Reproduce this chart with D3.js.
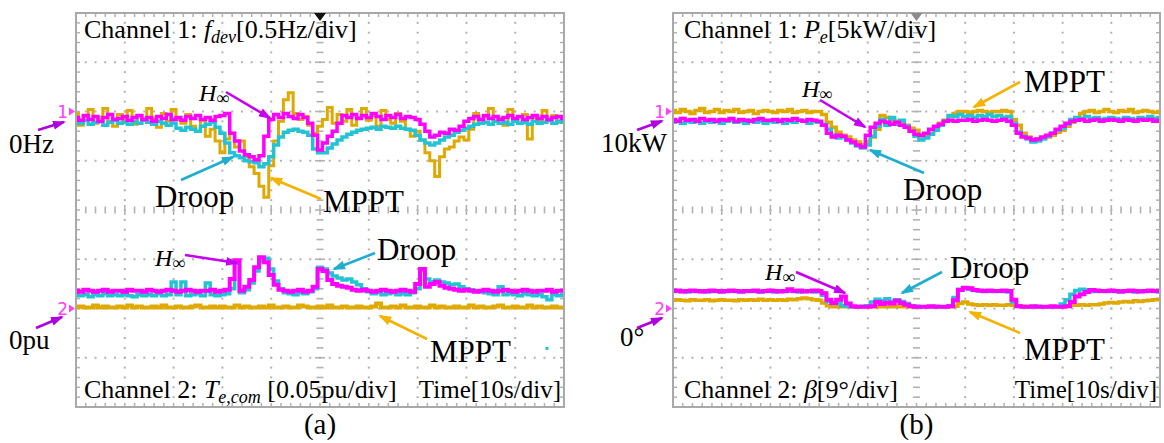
<!DOCTYPE html>
<html><head><meta charset="utf-8">
<script src="https://cdn.jsdelivr.net/npm/d3@7"></script>
<style>
body{margin:0;background:#fff}
svg{display:block}
text{font-family:"Liberation Serif","Times New Roman",serif;fill:#000}
</style>
</head><body>
<svg id="c" width="1164" height="443"></svg>
<script>
// ---------- DATA (one sample per second, 0..100 s; 10 s/div) ----------
// Panel (a), channel 1: frequency deviation f_dev [Hz]
const fdevHinf = [-0.06,-0.09,-0.04,-0.08,-0.05,-0.10,-0.06,-0.03,-0.08,-0.07,
 -0.05,-0.09,-0.06,-0.04,-0.08,-0.06,-0.10,-0.05,-0.07,-0.03,
 -0.08,-0.06,-0.09,-0.05,-0.07,-0.04,-0.08,-0.06,-0.09,-0.05,
 -0.04,-0.02,-0.22,-0.30,-0.40,-0.44,-0.46,-0.49,-0.45,-0.25,
 -0.08,-0.03,-0.06,-0.02,-0.05,-0.07,-0.03,-0.06,-0.12,-0.24,
 -0.39,-0.32,-0.25,-0.20,-0.12,-0.04,-0.06,-0.03,-0.07,-0.04,
 -0.06,-0.02,-0.05,-0.08,-0.04,-0.06,-0.03,-0.07,-0.05,-0.06,
 -0.08,-0.13,-0.20,-0.26,-0.24,-0.21,-0.22,-0.18,-0.19,-0.15,
 -0.10,-0.07,-0.05,-0.08,-0.04,-0.07,-0.05,-0.08,-0.06,-0.04,
 -0.07,-0.05,-0.08,-0.06,-0.04,-0.07,-0.05,-0.08,-0.06,-0.05,-0.07];
const fdevDroop = [-0.10,-0.12,-0.09,-0.13,-0.11,-0.10,-0.14,-0.11,-0.09,-0.12,
 -0.11,-0.13,-0.10,-0.12,-0.09,-0.11,-0.13,-0.10,-0.12,-0.14,
 -0.12,-0.17,-0.19,-0.16,-0.18,-0.20,-0.15,-0.13,-0.11,-0.16,
 -0.22,-0.32,-0.42,-0.45,-0.47,-0.50,-0.51,-0.52,-0.56,-0.53,
 -0.46,-0.34,-0.26,-0.21,-0.19,-0.18,-0.20,-0.21,-0.24,-0.38,
 -0.42,-0.42,-0.37,-0.33,-0.29,-0.26,-0.23,-0.21,-0.19,-0.18,
 -0.17,-0.16,-0.18,-0.15,-0.16,-0.17,-0.15,-0.17,-0.18,-0.19,
 -0.24,-0.29,-0.32,-0.34,-0.32,-0.29,-0.26,-0.24,-0.21,-0.19,
 -0.17,-0.15,-0.13,-0.12,-0.11,-0.13,-0.10,-0.12,-0.11,-0.13,
 -0.10,-0.12,-0.11,-0.13,-0.10,-0.12,-0.11,-0.09,-0.12,-0.10,-0.11];
const fdevMPPT = [-0.02,-0.14,-0.05,0.02,-0.12,-0.06,0.03,-0.10,-0.15,-0.03,
 -0.08,0.01,-0.13,-0.04,-0.09,0.03,-0.07,-0.16,-0.02,-0.10,
 0.02,-0.08,-0.12,-0.03,-0.15,-0.20,-0.09,-0.25,-0.18,-0.30,
 -0.42,-0.28,-0.22,-0.36,-0.30,-0.46,-0.56,-0.63,-0.76,-0.87,
 -0.55,-0.30,-0.10,0.12,0.19,-0.02,-0.08,-0.05,-0.14,-0.22,
 -0.15,-0.08,0.04,-0.12,-0.03,-0.10,0.02,-0.14,-0.06,0.03,
 -0.09,-0.04,-0.15,0.01,-0.08,-0.12,-0.02,-0.10,-0.18,-0.25,
 -0.20,-0.29,-0.42,-0.50,-0.66,-0.46,-0.38,-0.36,-0.30,-0.26,
 -0.29,-0.18,-0.02,-0.12,-0.05,0.03,-0.10,-0.07,-0.14,0.02,
 -0.08,-0.12,-0.03,-0.28,-0.06,-0.10,0.01,-0.09,-0.04,-0.11,-0.07];

// Panel (a), channel 2: T_e,com [pu]
const tecHinf = [0.018,0.017,0.019,0.018,0.017,0.018,0.019,0.017,0.018,0.018,
 0.017,0.019,0.018,0.018,0.017,0.019,0.018,0.017,0.018,0.019,
 0.018,0.017,0.018,0.019,0.018,0.017,0.018,0.018,0.019,0.017,
 0.018,0.019,0.030,0.049,0.018,0.022,0.029,0.042,0.052,0.047,
 0.034,0.024,0.019,0.018,0.017,0.018,0.019,0.017,0.018,0.022,
 0.040,0.038,0.029,0.025,0.023,0.022,0.021,0.019,0.018,0.019,
 0.018,0.017,0.018,0.019,0.018,0.017,0.018,0.019,0.018,0.017,
 0.025,0.040,0.022,0.025,0.027,0.023,0.021,0.020,0.019,0.018,
 0.019,0.018,0.017,0.018,0.019,0.018,0.017,0.018,0.019,0.018,
 0.017,0.018,0.019,0.018,0.017,0.018,0.018,0.019,0.017,0.018,0.018];
const tecDroop = [0.014,0.013,0.014,0.012,0.014,0.013,0.015,0.013,0.014,0.013,
 0.014,0.013,0.012,0.014,0.013,0.014,0.013,0.015,0.013,0.014,
 0.027,0.014,0.027,0.013,0.014,0.015,0.013,0.026,0.014,0.013,
 0.014,0.015,0.020,0.046,0.016,0.019,0.026,0.038,0.048,0.051,
 0.040,0.028,0.020,0.016,0.015,0.014,0.016,0.015,0.017,0.020,
 0.042,0.040,0.036,0.033,0.031,0.029,0.030,0.027,0.024,0.020,
 0.017,0.015,0.016,0.014,0.015,0.016,0.014,0.015,0.014,0.016,
 0.020,0.039,0.030,0.027,0.029,0.027,0.026,0.024,0.025,0.022,
 0.020,0.019,0.018,0.017,0.016,0.015,0.014,0.022,0.014,0.015,
 0.014,0.013,0.015,0.014,0.013,0.014,0.012,0.009,0.014,0.013,0.014];
const tecMPPT = [0.001,0.002,0.001,0.001,0.003,0.001,0.002,0.001,0.001,0.002,
 0.001,0.003,0.001,0.002,0.001,0.001,0.002,0.001,0.003,0.001,
 0.001,0.002,0.001,0.001,0.002,0.003,0.001,0.001,0.002,0.001,
 0.002,0.001,0.001,0.003,0.001,0.002,0.001,0.001,0.002,0.001,
 0.003,0.001,0.001,0.002,0.001,0.001,0.003,0.002,0.001,0.001,
 0.002,0.001,0.003,0.001,0.001,0.002,0.001,0.001,0.002,0.001,
 0.001,0.002,0.005,0.001,0.001,0.002,0.001,0.003,0.001,0.001,
 0.002,0.001,0.001,0.003,0.001,0.002,0.001,0.001,0.002,0.001,
 0.001,0.003,0.001,0.002,0.001,0.001,0.002,0.003,0.001,0.001,
 0.002,0.001,0.001,0.003,0.001,0.002,0.001,0.001,0.002,0.001,0.001];
const tecDroopStray = [{t:96.4, v:-0.040}];

// Panel (b), channel 1: P_e [kW]
const peHinf = [9.2,9.0,9.3,9.1,9.2,9.0,9.3,9.1,9.2,9.0,
 9.2,9.1,9.3,9.0,9.2,9.1,9.0,9.2,9.3,9.1,
 9.1,9.2,9.0,9.2,9.1,9.3,9.1,9.0,9.2,9.1,
 9.0,8.6,7.8,7.4,7.6,7.5,7.1,6.9,6.6,6.4,
 7.6,8.4,8.8,9.0,8.9,8.7,8.9,8.6,8.4,8.0,
 7.7,7.6,7.8,8.2,8.5,8.7,9.0,9.1,9.0,9.1,
 9.1,9.2,9.0,9.1,9.2,9.1,9.0,9.1,9.2,9.0,
 8.6,7.8,7.4,7.3,7.1,7.2,7.4,7.6,7.8,8.2,
 8.5,8.8,9.0,9.1,9.2,9.0,9.1,9.2,9.0,9.1,
 9.2,9.1,9.0,9.2,9.1,9.0,9.2,9.1,9.2,9.0,9.1];
const peDroop = [8.9,9.1,8.8,9.0,8.9,9.2,8.8,9.0,8.9,9.1,
 8.8,9.0,9.1,8.9,9.0,8.8,9.1,8.9,9.0,8.8,
 9.0,8.9,9.1,8.8,9.0,8.9,9.1,9.0,8.8,9.0,
 8.9,8.7,8.2,7.6,7.3,7.4,7.1,6.8,6.5,6.3,
 6.6,7.5,8.5,9.2,8.6,9.4,8.7,9.1,8.5,8.0,
 7.5,7.1,7.3,7.7,8.1,8.6,9.0,9.6,9.5,9.7,
 9.5,9.6,9.4,9.6,9.5,9.7,9.5,9.6,9.4,9.5,
 8.8,7.9,7.5,7.2,6.9,7.0,7.2,7.5,7.8,8.1,
 8.3,8.7,9.2,9.4,9.3,9.5,9.3,9.4,9.2,9.3,
 9.4,9.3,9.2,9.4,9.3,9.2,9.4,9.3,9.5,9.3,9.4];
const peMPPT = [10.1,9.9,10.2,10.0,9.8,10.1,10.3,9.9,10.0,10.2,
 9.9,10.1,10.0,10.2,9.9,10.0,10.1,9.8,10.0,10.1,
 10.0,9.9,10.1,10.0,10.2,9.9,10.0,10.1,9.9,10.0,
 10.0,9.7,8.9,8.4,7.9,7.6,7.4,7.1,6.9,6.6,
 6.9,7.4,8.2,9.6,9.4,9.1,9.0,8.8,8.6,8.3,
 8.1,7.4,7.6,7.8,8.4,8.8,9.1,9.5,9.8,10.0,
 10.0,9.9,10.0,10.1,10.0,9.9,10.0,10.0,10.1,10.0,
 9.2,8.6,7.8,7.4,7.1,7.2,7.3,7.4,7.6,7.9,
 8.1,8.5,8.9,9.3,9.8,10.0,10.1,9.9,10.0,10.2,
 10.0,9.9,10.1,10.0,10.2,9.9,10.0,10.1,10.0,9.9,10.0];

// Panel (b), channel 2: pitch angle beta [deg]
const betaHinf = [3.2,3.3,3.1,3.2,3.3,3.2,3.1,3.2,3.3,3.2,
 3.1,3.2,3.3,3.2,3.1,3.2,3.2,3.3,3.1,3.2,
 3.3,3.2,3.1,3.2,3.5,3.2,3.3,3.1,3.2,3.3,
 3.2,2.8,1.6,1.0,1.6,2.2,0.9,0.4,0.3,0.3,
 0.3,0.4,1.2,0.8,1.1,0.9,1.4,1.0,0.7,0.4,
 0.3,0.3,0.3,0.4,0.3,0.3,0.3,0.4,1.5,3.4,
 3.8,3.7,3.4,3.3,3.2,3.3,3.2,3.2,3.3,3.2,
 1.6,0.4,0.3,0.3,0.4,0.3,0.3,0.3,0.4,0.3,
 0.3,0.4,1.2,2.2,2.6,3.0,3.4,3.3,3.2,3.2,
 3.3,3.2,3.1,3.2,3.3,3.2,3.1,3.2,3.3,3.2,3.2];
const betaDroop = [3.1,3.2,3.1,3.0,3.2,3.1,3.2,3.0,3.1,3.2,
 3.0,3.1,3.2,3.1,3.0,3.2,3.1,3.1,3.0,3.2,
 3.1,3.0,3.2,3.1,3.3,3.1,3.0,3.2,3.1,3.0,
 3.1,2.4,1.3,0.9,1.0,0.5,0.4,0.3,0.3,0.4,
 0.5,1.2,1.7,1.4,1.8,1.2,1.6,1.3,0.9,0.5,
 0.4,0.3,0.3,0.3,0.4,0.3,0.3,0.5,2.0,3.5,
 3.7,3.5,3.3,3.2,3.1,3.2,3.1,3.2,3.1,3.0,
 1.2,0.4,0.3,0.3,0.3,0.4,0.3,0.3,0.3,0.3,
 0.8,1.6,2.6,3.3,3.5,3.4,3.2,3.1,3.2,3.1,
 3.2,3.1,3.0,3.2,3.1,3.0,3.2,3.1,3.2,3.1,3.0];
const betaMPPT = [1.5,1.6,1.5,1.4,1.6,1.5,1.5,1.6,1.4,1.5,
 1.6,1.5,1.5,1.4,1.6,1.5,1.6,1.5,1.7,1.5,
 1.6,1.5,1.6,1.5,1.7,1.6,1.8,1.9,1.8,1.6,
 1.5,1.0,0.5,0.3,0.3,0.3,0.3,0.3,0.3,0.3,
 0.3,0.3,0.3,0.3,0.4,0.3,0.3,0.3,0.3,0.3,
 0.3,0.3,0.3,0.3,0.3,0.3,0.3,0.3,0.4,0.9,
 1.2,0.8,0.7,0.6,0.7,0.6,0.7,0.6,0.6,0.7,
 0.6,0.5,0.4,0.3,0.3,0.3,0.3,0.3,0.3,0.3,
 0.4,0.5,0.6,0.6,0.7,0.6,0.7,0.7,0.8,1.0,
 1.1,1.0,1.2,1.3,1.2,1.4,1.3,1.4,1.5,1.6,1.7];

// Scope settings: [units per division, value at channel marker]
const timePerDiv = 10;          // s/div
const ch1A = {perDiv:0.5,  ref:0};   // Hz/div, 0 Hz at marker
const ch2A = {perDiv:0.05, ref:0};   // pu/div, 0 pu at marker
const ch1B = {perDiv:5,    ref:10};  // kW/div, 10 kW at marker
const ch2B = {perDiv:9,    ref:0};   // deg/div, 0 deg at marker

// ---------- DRAWING ----------
const COL = {mag:"#ff00ff", cyan:"#22c3d2", gold:"#e0a900",
  arHinf:"#c800f0", arDroop:"#1eaed0", arMPPT:"#f5b300", arRef:"#b000e0", mark:"#ff40ff"};
const svg = d3.select("#c");
const defs = svg.append("defs");
function arrowDef(id, color){
  defs.append("marker").attr("id",id).attr("markerUnits","userSpaceOnUse")
    .attr("markerWidth",13).attr("markerHeight",10).attr("refX",11).attr("refY",5)
    .attr("orient","auto")
    .append("path").attr("d","M0,0.5 L13,5 L0,9.5 Z").attr("fill",color);
}
arrowDef("ah-hinf",COL.arHinf); arrowDef("ah-droop",COL.arDroop);
arrowDef("ah-mppt",COL.arMPPT); arrowDef("ah-ref",COL.arRef);

const Y0 = 13, Y1 = 407;

function panel(x0, x1, triColor, chA, chB, series, ch1Label, ch2Label, ref1Label, ref2Label, caption, extra){
  const g = svg.append("g");
  const x = d3.scaleLinear().domain([0, 10*timePerDiv]).range([x0, x1]);
  const div = d3.scaleLinear().domain([-4,4]).range([Y1, Y0]);
  // channel scales: channel 1 marker at +2 div, channel 2 marker at -2 div
  const y1 = d3.scaleLinear().domain([chA.ref-6*chA.perDiv, chA.ref+2*chA.perDiv]).range([Y1,Y0]);
  const y2 = d3.scaleLinear().domain([chB.ref-2*chB.perDiv, chB.ref+6*chB.perDiv]).range([Y1,Y0]);

  const gridC = "#b2b2b2";
  const dots = [];
  const tMinor = d3.range(0, 100.001, 2), dMinor = d3.range(-4, 4.001, 0.2);
  for (let t=10;t<100;t+=10){ if (t===50) continue; dMinor.forEach(d=>{ if(d>-3.99&&d<3.99) dots.push([x(t), div(d)]); }); }
  for (let d=-3; d<=3; d++){ if (d===0) continue; tMinor.forEach(t=>{ if(t>0&&t<100) dots.push([x(t), div(d)]); }); }
  g.append("g").selectAll("rect").data(dots).join("rect")
    .attr("x",d=>d[0]-1).attr("y",d=>d[1]-1).attr("width",2).attr("height",2).attr("fill",gridC);
  const cx = x(50), cy = div(0);
  g.append("g").selectAll("line").data(dMinor.filter(d=>d>-3.99&&d<3.99)).join("line")
    .attr("x1",d=>cx-(Math.abs(d-Math.round(d))<0.01?5:3.5)).attr("x2",d=>cx+(Math.abs(d-Math.round(d))<0.01?5:3.5))
    .attr("y1",d=>div(d)).attr("y2",d=>div(d)).attr("stroke",gridC).attr("stroke-width",1.6);
  g.append("g").selectAll("line").data(tMinor.filter(t=>t>0&&t<100)).join("line")
    .attr("x1",t=>x(t)).attr("x2",t=>x(t))
    .attr("y1",t=>cy-(t%10===0?5:3.5)).attr("y2",t=>cy+(t%10===0?5:3.5)).attr("stroke",gridC).attr("stroke-width",1.6);
  g.append("g").selectAll("line").data(tMinor.filter(t=>t>0&&t<100)).join("line")
    .attr("x1",t=>x(t)).attr("x2",t=>x(t)).attr("y1",Y0).attr("y2",Y0+4).attr("stroke",gridC).attr("stroke-width",1.5);
  g.append("g").selectAll("line").data(tMinor.filter(t=>t>0&&t<100)).join("line")
    .attr("x1",t=>x(t)).attr("x2",t=>x(t)).attr("y1",Y1).attr("y2",Y1-4).attr("stroke",gridC).attr("stroke-width",1.5);
  g.append("g").selectAll("line").data(dMinor.filter(d=>d>-3.99&&d<3.99)).join("line")
    .attr("x1",x0).attr("x2",x0+4).attr("y1",d=>div(d)).attr("y2",d=>div(d)).attr("stroke",gridC).attr("stroke-width",1.5);
  g.append("g").selectAll("line").data(dMinor.filter(d=>d>-3.99&&d<3.99)).join("line")
    .attr("x1",x1).attr("x2",x1-4).attr("y1",d=>div(d)).attr("y2",d=>div(d)).attr("stroke",gridC).attr("stroke-width",1.5);
  g.append("rect").attr("x",x0).attr("y",Y0).attr("width",x1-x0).attr("height",Y1-Y0)
    .attr("fill","none").attr("stroke","#a9a9a9").attr("stroke-width",2);
  g.append("path").attr("d",`M${cx-6},${Y0} L${cx+6},${Y0} L${cx},${Y0+8} Z`).attr("fill",triColor);

  const clipId = "clip"+x0;
  defs.append("clipPath").attr("id",clipId).append("rect").attr("x",x0+1).attr("y",Y0+1).attr("width",x1-x0-2).attr("height",Y1-Y0-2);
  const tg = g.append("g").attr("clip-path",`url(#${clipId})`);
  series.forEach(s=>{
    const ys = s.ch===1 ? y1 : y2;
    const line = d3.line().x((d,i)=>x(i*timePerDiv/10)).y(d=>ys(d)).curve(d3.curveStep);
    tg.append("path").attr("d",line(s.data)).attr("fill","none").attr("stroke",s.color)
      .attr("stroke-width",s.w||3.5).attr("stroke-linejoin","miter");
  });
  if (extra) extra(tg, x, y1, y2);

  [[1,div(2)],[2,div(-2)]].forEach(([n,yy])=>{
    g.append("text").attr("x",x0-8).attr("y",yy+6).attr("text-anchor","end")
      .style("font-family","DejaVu Sans").style("font-size","17px").style("fill",COL.mark).text(n);
    g.append("path").attr("d",`M${x0-7},${yy-4} L${x0-1},${yy} L${x0-7},${yy+4} Z`).attr("fill",COL.mark);
  });
  ch1Label(g, x0+8, 38);
  ch2Label(g, x0+8, 398);
  g.append("text").attr("x",x1-3).attr("y",398).attr("text-anchor","end").style("font-size","25px").text("Time[10s/div]");
  ref1Label(g); ref2Label(g);
  g.append("text").attr("x",(x0+x1)/2).attr("y",434).attr("text-anchor","middle").style("font-size","29px").text(caption);
  return g;
}

function arrow(g, x1,y1,x2,y2, id, color){
  g.append("line").attr("x1",x1).attr("y1",y1).attr("x2",x2).attr("y2",y2)
    .attr("stroke",color).attr("stroke-width",2.6).attr("marker-end",`url(#${id})`);
}
function big(g, x, y, s){ g.append("text").attr("x",x).attr("y",y).style("font-size","31px").text(s); }
function hinf(g, x, y){
  const t = g.append("text").attr("x",x).attr("y",y).style("font-size","24px");
  t.append("tspan").style("font-style","italic").text("H");
  t.append("tspan").attr("dy",3).style("font-size","18px").text("∞");
}
function side(g, x, y, s){ g.append("text").attr("x",x).attr("y",y).style("font-size","27px").text(s); }
function chText(g, x, y, pre, sym, sub, post){
  const t = g.append("text").attr("x",x).attr("y",y).style("font-size","26px");
  t.append("tspan").text(pre);
  t.append("tspan").style("font-style","italic").text(sym);
  if (sub) { t.append("tspan").attr("dy",5).style("font-style","italic").style("font-size","18px").text(sub);
             t.append("tspan").attr("dy",-5).text(post); }
  else t.append("tspan").text(post);
}

// ----- panel (a)
panel(76, 564, "#111", ch1A, ch2A, [
  {ch:1, data:fdevMPPT, color:COL.gold, w:3},
  {ch:1, data:fdevDroop, color:COL.cyan},
  {ch:1, data:fdevHinf, color:COL.mag},
  {ch:2, data:tecMPPT, color:COL.gold, w:4},
  {ch:2, data:tecDroop, color:COL.cyan},
  {ch:2, data:tecHinf, color:COL.mag, w:4}
], (g,x,y)=>chText(g,x,y,"Channel 1: ","f","dev","[0.5Hz/div]"),
   (g,x,y)=>chText(g,x,y,"Channel 2: ","T","e,com"," [0.05pu/div]"),
g=>{
  side(g, 9, 153, "0Hz"); arrow(g, 38,130, 64,122, "ah-ref", COL.arRef);
  hinf(g, 199, 101); arrow(g, 226,92, 270,118, "ah-hinf", COL.arHinf);
  big(g, 155, 207, "Droop"); arrow(g, 181,180, 233,157, "ah-droop", COL.arDroop);
  big(g, 323, 212, "MPPT"); arrow(g, 321,199, 271,178, "ah-mppt", COL.arMPPT);
}, g=>{
  side(g, 9, 349, "0pu"); arrow(g, 36,328, 62,317, "ah-ref", COL.arRef);
  hinf(g, 155, 266); arrow(g, 185,255, 237,263, "ah-hinf", COL.arHinf);
  big(g, 377, 260, "Droop"); arrow(g, 375,253, 334,269, "ah-droop", COL.arDroop);
  big(g, 430, 362, "MPPT"); arrow(g, 427,339, 380,316, "ah-mppt", COL.arMPPT);
}, "(a)", (tg,x,y1,y2)=>{
  tg.selectAll("rect.stray").data(tecDroopStray).join("rect")
    .attr("x",d=>x(d.t)-1).attr("y",d=>y2(d.v)-1).attr("width",3).attr("height",3).attr("fill",COL.cyan);
});

// ----- panel (b)
panel(673, 1160, "#8c8c8c", ch1B, ch2B, [
  {ch:1, data:peMPPT, color:COL.gold},
  {ch:1, data:peDroop, color:COL.cyan},
  {ch:1, data:peHinf, color:COL.mag},
  {ch:2, data:betaMPPT, color:COL.gold},
  {ch:2, data:betaDroop, color:COL.cyan},
  {ch:2, data:betaHinf, color:COL.mag, w:4}
], (g,x,y)=>chText(g,x+3,y,"Channel 1: ","P","e","[5kW/div]"),
   (g,x,y)=>chText(g,x+3,y,"Channel 2: ","β",null,"[9°/div]"),
g=>{
  side(g, 601, 152, "10kW"); arrow(g, 637,130, 662,121, "ah-ref", COL.arRef);
  hinf(g, 802, 97); arrow(g, 820,100, 865,127, "ah-hinf", COL.arHinf);
  big(g, 1024, 92, "MPPT"); arrow(g, 1020,82, 974,107, "ah-mppt", COL.arMPPT);
  big(g, 903, 200, "Droop"); arrow(g, 924,173, 870,150, "ah-droop", COL.arDroop);
}, g=>{
  side(g, 620, 346, "0°"); arrow(g, 637,328, 662,318, "ah-ref", COL.arRef);
  hinf(g, 765, 280); arrow(g, 796,272, 845,293, "ah-hinf", COL.arHinf);
  big(g, 950, 278, "Droop"); arrow(g, 942,272, 902,293, "ah-droop", COL.arDroop);
  big(g, 1024, 360, "MPPT"); arrow(g, 1020,333, 970,312, "ah-mppt", COL.arMPPT);
}, "(b)");
</script>
</body></html>
